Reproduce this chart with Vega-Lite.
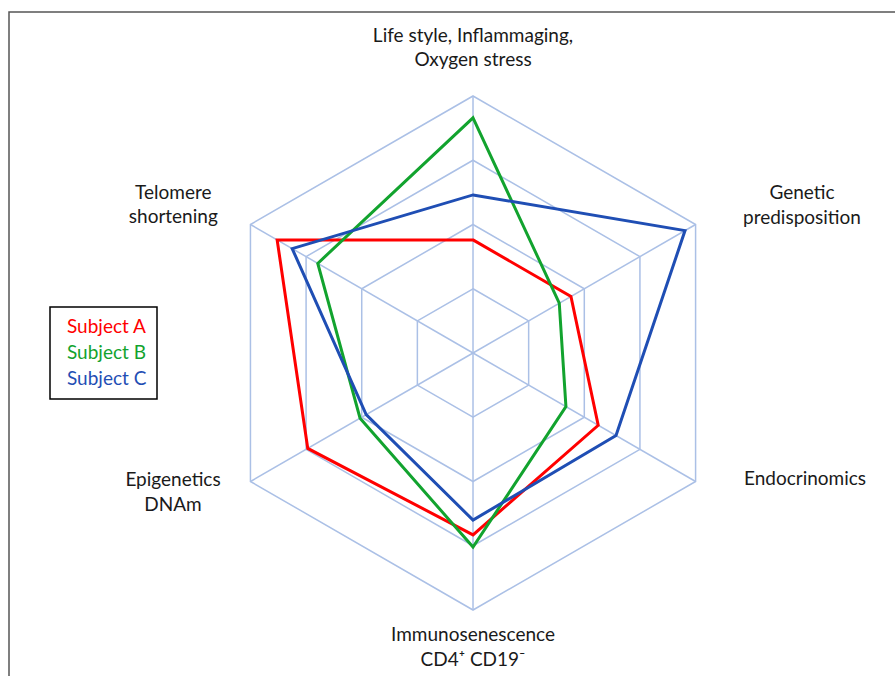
{
  "$schema": "https://vega.github.io/schema/vega-lite/v6.json",
  "width": 888,
  "height": 666,
  "autosize": {"type": "none"},
  "padding": {"left": 9, "top": 12, "right": 0, "bottom": 0},
  "background": "white",
  "config": {"view": {"stroke": "#555555", "strokeWidth": 1.5}, "font": "Lato"},
  "datasets": {
    "axes": [
      {"i": 0, "label": "Life style, Inflammaging,\nOxygen stress"},
      {"i": 1, "label": "Genetic\npredisposition"},
      {"i": 2, "label": "Endocrinomics"},
      {"i": 3, "label": "Immunosenescence\nCD4⁺ CD19⁻"},
      {"i": 4, "label": "Epigenetics\nDNAm"},
      {"i": 5, "label": "Telomere\nshortening"}
    ],
    "rings": [
      {"ring": 1, "i": 0}, {"ring": 1, "i": 1}, {"ring": 1, "i": 2}, {"ring": 1, "i": 3}, {"ring": 1, "i": 4}, {"ring": 1, "i": 5},
      {"ring": 2, "i": 0}, {"ring": 2, "i": 1}, {"ring": 2, "i": 2}, {"ring": 2, "i": 3}, {"ring": 2, "i": 4}, {"ring": 2, "i": 5},
      {"ring": 3, "i": 0}, {"ring": 3, "i": 1}, {"ring": 3, "i": 2}, {"ring": 3, "i": 3}, {"ring": 3, "i": 4}, {"ring": 3, "i": 5},
      {"ring": 4, "i": 0}, {"ring": 4, "i": 1}, {"ring": 4, "i": 2}, {"ring": 4, "i": 3}, {"ring": 4, "i": 4}, {"ring": 4, "i": 5}
    ],
    "scores": [
      {"subject": "Subject A", "i": 0, "value": 1.76},
      {"subject": "Subject A", "i": 1, "value": 1.76},
      {"subject": "Subject A", "i": 2, "value": 2.25},
      {"subject": "Subject A", "i": 3, "value": 2.83},
      {"subject": "Subject A", "i": 4, "value": 2.97},
      {"subject": "Subject A", "i": 5, "value": 3.52},
      {"subject": "Subject B", "i": 0, "value": 3.66},
      {"subject": "Subject B", "i": 1, "value": 1.55},
      {"subject": "Subject B", "i": 2, "value": 1.67},
      {"subject": "Subject B", "i": 3, "value": 3.02},
      {"subject": "Subject B", "i": 4, "value": 2.03},
      {"subject": "Subject B", "i": 5, "value": 2.79},
      {"subject": "Subject C", "i": 0, "value": 2.46},
      {"subject": "Subject C", "i": 1, "value": 3.81},
      {"subject": "Subject C", "i": 2, "value": 2.57},
      {"subject": "Subject C", "i": 3, "value": 2.60},
      {"subject": "Subject C", "i": 4, "value": 1.92},
      {"subject": "Subject C", "i": 5, "value": 3.25}
    ]
  },
  "layer": [
    {
      "data": {"name": "rings"},
      "transform": [
        {"calculate": "PI/2 - datum.i*PI/3", "as": "theta"},
        {"calculate": "datum.ring*cos(datum.theta)", "as": "px"},
        {"calculate": "datum.ring*sin(datum.theta)", "as": "py"}
      ],
      "mark": {"type": "line", "interpolate": "linear-closed", "color": "#abc0e6", "strokeWidth": 1.5},
      "encoding": {
        "x": {"field": "px", "type": "quantitative", "scale": {"domain": [-7.222, 6.599], "nice": false, "zero": false}, "axis": null},
        "y": {"field": "py", "type": "quantitative", "scale": {"domain": [-5.058, 5.307], "nice": false, "zero": false}, "axis": null},
        "detail": {"field": "ring", "type": "nominal"},
        "order": {"field": "i", "type": "quantitative"}
      }
    },
    {
      "data": {"name": "axes"},
      "transform": [
        {"calculate": "PI/2 - datum.i*PI/3", "as": "theta"},
        {"calculate": "0", "as": "o"},
        {"calculate": "4*cos(datum.theta)", "as": "ex"},
        {"calculate": "4*sin(datum.theta)", "as": "ey"}
      ],
      "mark": {"type": "rule", "color": "#abc0e6", "strokeWidth": 1.5},
      "encoding": {
        "x": {"field": "o", "type": "quantitative"},
        "y": {"field": "o", "type": "quantitative"},
        "x2": {"field": "ex"},
        "y2": {"field": "ey"}
      }
    },
    {
      "data": {"name": "scores"},
      "transform": [
        {"calculate": "PI/2 - datum.i*PI/3", "as": "theta"},
        {"calculate": "datum.value*cos(datum.theta)", "as": "px"},
        {"calculate": "datum.value*sin(datum.theta)", "as": "py"}
      ],
      "mark": {"type": "line", "interpolate": "linear-closed", "strokeWidth": 3},
      "encoding": {
        "x": {"field": "px", "type": "quantitative"},
        "y": {"field": "py", "type": "quantitative"},
        "order": {"field": "i", "type": "quantitative"},
        "color": {
          "field": "subject",
          "type": "nominal",
          "scale": {"domain": ["Subject A", "Subject B", "Subject C"], "range": ["#ff0000", "#12a32e", "#1f4eb4"]},
          "legend": {
            "orient": "none",
            "legendX": 41,
            "legendY": 295,
            "title": null,
            "strokeColor": "#000000",
            "padding": 10,
            "symbolSize": 0,
            "symbolOpacity": 0,
            "symbolStrokeWidth": 0,
            "labelOffset": -12,
            "labelFont": "Lato",
            "labelFontSize": 19,
            "rowPadding": 6,
            "labelExpr": "datum.label + '   '",
            "encode": {
              "legend": {"update": {"strokeWidth": {"value": 1.5}}},
              "labels": {"update": {"fill": {"scale": "color", "field": "value"}}}
            }
          }
        }
      }
    },
    {
      "data": {"name": "axes"},
      "transform": [
        {"calculate": "[0, 5.12, 5.167, 0, -4.669, -4.665][datum.i]", "as": "lx"},
        {"calculate": "[4.934, 2.486, -1.961, -4.389, -1.977, 2.495][datum.i]", "as": "ly"}
      ],
      "mark": {"type": "text", "align": "center", "baseline": "middle", "lineBreak": "\n", "fontSize": 19, "lineHeight": 24.5, "color": "#1a1a1a", "font": "Lato"},
      "encoding": {
        "x": {"field": "lx", "type": "quantitative"},
        "y": {"field": "ly", "type": "quantitative"},
        "text": {"field": "label"}
      }
    }
  ]
}
